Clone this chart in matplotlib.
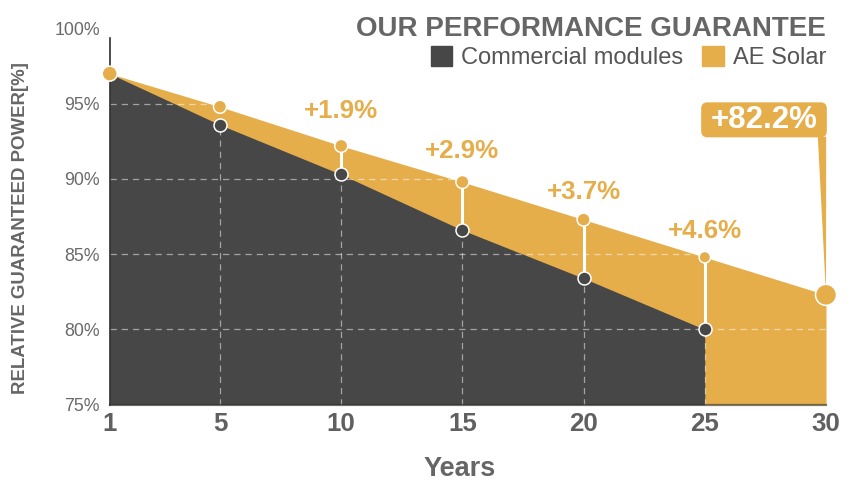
import numpy as np
import matplotlib
matplotlib.use("Agg")
import matplotlib.pyplot as plt
from matplotlib.patches import Patch, BoxStyle
from matplotlib.ticker import NullLocator

# ---------------- data ----------------
years = [1, 5, 10, 15, 20, 25, 30]
ae_solar = [97.0, 94.8, 92.2, 89.8, 87.3, 84.8, 82.3]
commercial_years = [1, 5, 10, 15, 20, 25]
commercial = [97.0, 93.6, 90.3, 86.6, 83.4, 80.0]
gain_years = [10, 15, 20, 25]
gain_labels = ["+1.9%", "+2.9%", "+3.7%", "+4.6%"]
end_label = "+82.2%"
x_ticks = [1, 5, 10, 15, 20, 25, 30]
y_ticks = [75, 80, 85, 90, 95, 100]
title = "OUR PERFORMANCE GUARANTEE"
series_names = ["Commercial modules", "AE Solar"]
x_title = "Years"
y_title = "RELATIVE GUARANTEED POWER[%]"

# ---------------- style ----------------
ORANGE = "#E5AE4B"
DARK = "#474747"
GRAY = "#606060"
ae_marker_px = [15, 13, 13, 13, 13, 11.5, 21]
com_marker_px = 13
gain_offsets_px = [35, 31, 28, 26]

plt.rcParams["font.family"] = ["Liberation Sans", "DejaVu Sans"]

W, H = 851, 494
fig = plt.figure(figsize=(W / 100, H / 100), dpi=100)
ax = fig.add_axes([109.7 / W, (H - 404.7) / H, (826 - 109.7) / W, (404.7 - 28.5) / H])

# first interval (1 -> 5) is drawn a bit shorter than the others
k = 1.1375
def fwd(x):
    x = np.asarray(x, float)
    return np.where(x < 5, 5 - (5 - x) * k, x)
def inv(y):
    y = np.asarray(y, float)
    return np.where(y < 5, 5 - (5 - y) / k, y)
ax.set_xscale("function", functions=(fwd, inv))
ax.set_xlim(1, 30)
ax.set_ylim(75, 100)

ae_fill = ax.fill_between(years, ae_solar, 75, color=ORANGE, lw=0, zorder=1)
ax.fill_between(commercial_years, commercial, 75, color=DARK, lw=0, zorder=1.2)

clip = ae_fill.get_paths()[0]
for yv in y_ticks[1:-1]:
    ln = ax.axhline(yv, color="white", alpha=0.5, lw=0.9, ls=(0, (5, 4)), zorder=1.5)
    ln.set_clip_path(clip, ax.transData)
ax.vlines(commercial_years[1:], 75, commercial[1:], color="white", alpha=0.5,
          lw=0.9, linestyles=(0, (5, 4)), zorder=1.5)

com_map = dict(zip(commercial_years, commercial))
ae_map = dict(zip(years, ae_solar))
ax.vlines(gain_years, [com_map[g] for g in gain_years], [ae_map[g] for g in gain_years],
          color="white", lw=2.2, zorder=3)

ax.scatter(commercial_years[1:], commercial[1:], s=(com_marker_px * 0.72) ** 2,
           color=DARK, edgecolor="white", linewidth=1.1, zorder=4, clip_on=False)

# end callout
def wide_round(x0, y0, width, height, mutation_size):
    px = 0.3 * mutation_size
    py = 0.08 * mutation_size
    return BoxStyle.Round(pad=0, rounding_size=0.2)(
        x0 - px, y0 - py, width + 2 * px, height + 2 * py, mutation_size)

ax.annotate("", xy=(years[-1], ae_solar[-1]), xytext=(-4, 158), textcoords="offset pixels",
            arrowprops=dict(arrowstyle="wedge,tail_width=0.6,shrink_factor=0.5",
                            color=ORANGE, shrinkA=0, shrinkB=0, mutation_scale=10, lw=0),
            zorder=4.5, annotation_clip=False)
ax.annotate(end_label, xy=(years[-1], ae_solar[-1]), xytext=(-62, 175),
            textcoords="offset pixels", ha="center", va="center", fontsize=22.5,
            weight="bold", color="white", zorder=6, annotation_clip=False,
            bbox=dict(boxstyle=wide_round, fc=ORANGE, ec="none"))

ax.scatter(years, ae_solar, s=[(p * 0.72) ** 2 for p in ae_marker_px],
           color=ORANGE, edgecolor="white", linewidth=1.1, zorder=5, clip_on=False)

for g, lab, off in zip(gain_years, gain_labels, gain_offsets_px):
    ax.annotate(lab, xy=(g, ae_map[g]), xytext=(0, off), textcoords="offset pixels",
                ha="center", va="center", fontsize=18.6, weight="bold", color=ORANGE)

# axes styling
for s in ["top", "right"]:
    ax.spines[s].set_visible(False)
ax.spines["left"].set_bounds(75, 99.4)
ax.spines["left"].set_color("#2e2e2e")
ax.spines["left"].set_linewidth(1.2)
ax.spines["bottom"].set_color("#2e2e2e")
ax.spines["bottom"].set_alpha(0.6)
ax.spines["bottom"].set_linewidth(1.6)
ax.set_xticks(x_ticks)
ax.set_xticklabels([str(v) for v in x_ticks])
ax.xaxis.set_minor_locator(NullLocator())
ax.set_yticks(y_ticks)
ax.set_yticklabels([f"{v}%" for v in y_ticks])
ax.tick_params(axis="x", length=0, pad=5.5, labelsize=18.6, labelcolor=GRAY)
ax.tick_params(axis="y", length=0, pad=7, labelsize=12.8, labelcolor="#6a6a6a")
for t in ax.get_xticklabels():
    t.set_fontweight("bold")

fig.text(826 / W, 1 - 36 / H, title, ha="right", va="baseline", fontsize=20,
         weight="bold", color="#666666")
leg = fig.legend(handles=[Patch(color=DARK, label=series_names[0]),
                          Patch(color=ORANGE, label=series_names[1])],
                 loc="center right", bbox_to_anchor=(826 / W, 1 - 57.5 / H), ncol=2,
                 frameon=False, fontsize=17, handlelength=0.9, handleheight=0.9,
                 handletextpad=0.38, columnspacing=0.8, borderaxespad=0, borderpad=0)
for t in leg.get_texts():
    t.set_color("#555555")
fig.text(460 / W, 1 - 469 / H, x_title, ha="center", va="center", fontsize=19.5,
         weight="bold", color="#666666")
fig.text(21 / W, 1 - 228.5 / H, y_title, rotation=90, ha="center", va="center",
         fontsize=13.4, weight="bold", color="#666666")

fig.savefig("out.png", dpi=100)
